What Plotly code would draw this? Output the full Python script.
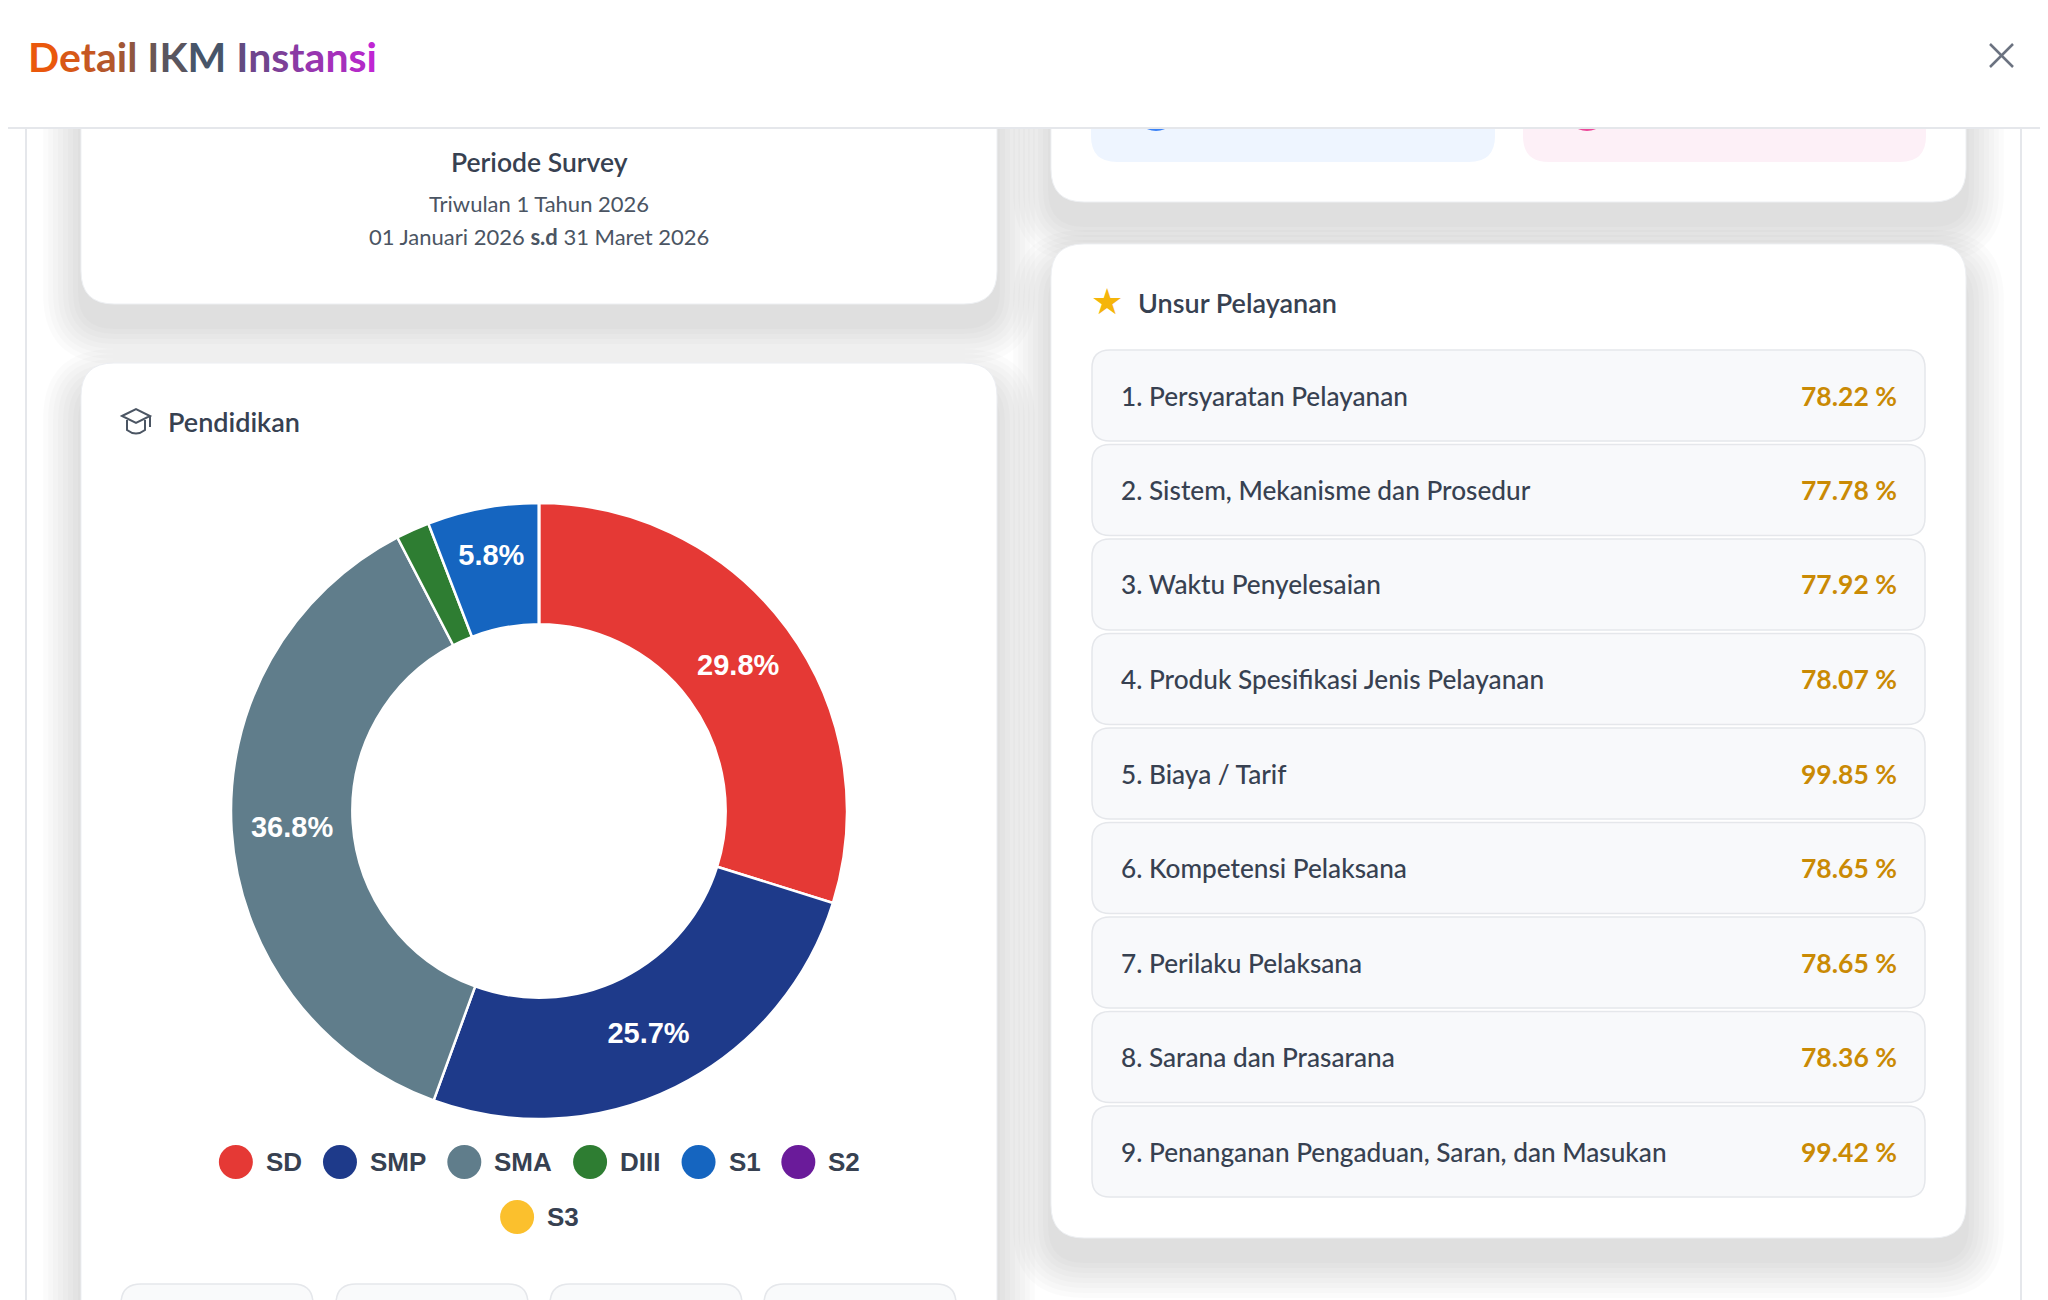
import plotly.graph_objects as go

# ---- data ----
edu_labels = ["SD", "SMP", "SMA", "DIII", "S1", "S2", "S3"]
edu_counts = [51, 44, 63, 3, 10, 0, 0]
edu_colors = ["#e53935", "#1e3a8a", "#607d8b", "#2e7d32", "#1565c0", "#6a1b9a", "#fbc02d"]

unsur_names = [
    "Persyaratan Pelayanan",
    "Sistem, Mekanisme dan Prosedur",
    "Waktu Penyelesaian",
    "Produk Spesifikasi Jenis Pelayanan",
    "Biaya / Tarif",
    "Kompetensi Pelaksana",
    "Perilaku Pelaksana",
    "Sarana dan Prasarana",
    "Penanganan Pengaduan, Saran, dan Masukan",
]
unsur_values = [78.22, 77.78, 77.92, 78.07, 99.85, 78.65, 78.65, 78.36, 99.42]

periode_title = "Periode Survey"
periode_label = "Triwulan 1 Tahun 2026"
periode_start = "01 Januari 2026"
periode_end = "31 Maret 2026"

# page is 2048x1300, the figure sits inside the 8px body margin
OFF = 8
W, H = 2048 - OFF, 1300 - OFF
UI_FONT = "Lato"
CHART_FONT = "Liberation Sans"


def X(px):
    return (px - OFF) / W


def Y(py):
    return 1 - (py - OFF) / H


def rrect(x0, y0, x1, y1, r):
    # rounded rectangle as svg path in paper coords (page pixel input)
    pts = [
        ("M", x0 + r, y0), ("L", x1 - r, y0), ("Q", x1, y0, x1, y0 + r),
        ("L", x1, y1 - r), ("Q", x1, y1, x1 - r, y1), ("L", x0 + r, y1),
        ("Q", x0, y1, x0, y1 - r), ("L", x0, y0 + r), ("Q", x0, y0, x0 + r, y0),
    ]
    out = []
    for p in pts:
        if p[0] == "Q":
            out.append(f"Q{X(p[1]):.5f},{Y(p[2]):.5f} {X(p[3]):.5f},{Y(p[4]):.5f}")
        else:
            out.append(f"{p[0]}{X(p[1]):.5f},{Y(p[2]):.5f}")
    return " ".join(out) + " Z"


shapes = []
annotations = []


def box(x0, y0, x1, y1, r, fill, line=None, lw=1.0):
    shapes.append(dict(type="path", xref="paper", yref="paper", layer="below",
                       path=rrect(x0, y0, x1, y1, r), fillcolor=fill,
                       line=dict(color=line or fill, width=lw if line else 0)))


def shadow(x0, y0, x1, y1, r):
    for k in range(8):
        e = 3 + k * 5
        box(x0 - e, y0 - e + 24, x1 + e, y1 + e + 22, r + e, "rgba(0,0,0,0.016)")


def text(x, y, s, size, color="#374151", xanchor="left", family=UI_FONT, weight="normal"):
    annotations.append(dict(x=X(x), y=Y(y), xref="paper", yref="paper", text=s,
                            showarrow=False, xanchor=xanchor, yanchor="middle",
                            font=dict(family=family, size=size, color=color, weight=weight)))


def line(x0, y0, x1, y1, color, width=1.5, layer="below"):
    shapes.append(dict(type="line", xref="paper", yref="paper", layer=layer,
                       x0=X(x0), y0=Y(y0), x1=X(x1), y1=Y(y1),
                       line=dict(color=color, width=width)))


# ---- container borders ----
line(26, 128, 26, 1300, "#e5e7eb", 2)
line(2021, 128, 2021, 1300, "#e5e7eb", 2)

# ---- left column ----
shadow(81, -60, 997, 304, 33)
shadow(81, 363, 997, 1420, 33)
box(81, -60, 997, 304, 33, "#ffffff", "#eef0f3")
box(81, 363, 997, 1420, 33, "#ffffff", "#eceef2")

text(539, 162, periode_title, 26.5, "#374151", "center", weight=600)
text(539, 204, periode_label, 22, "#4b5563", "center")
text(539, 236, f"{periode_start} <b>s.d</b> {periode_end}", 22, "#4b5563", "center")

# graduation cap icon
shapes.append(dict(type="path", xref="paper", yref="paper", layer="below",
                   path=(f"M{X(122)},{Y(416)} L{X(136)},{Y(409)} L{X(150)},{Y(416)} "
                         f"L{X(136)},{Y(423)} Z M{X(127)},{Y(420)} L{X(127)},{Y(430)} "
                         f"Q{X(136)},{Y(437)} {X(145)},{Y(430)} L{X(145)},{Y(420)} "
                         f"M{X(150)},{Y(416)} L{X(150)},{Y(427)}"),
                   line=dict(color="#4b5563", width=2)))
text(166, 422, "Pendidikan", 27, "#374151", weight=600)

# small boxes at the bottom of the education card
for bx0 in [121, 336, 550, 764]:
    box(bx0, 1284, bx0 + 192, 1420, 20, "#f9fafb", "#e5e7eb", 1.5)

# ---- donut ----
total = sum(edu_counts)
templates = ["<b>%{percent:.1%}</b>" if c / total >= 0.05 else "" for c in edu_counts]
cx, cy, R = 539, 811, 308
pie = go.Pie(
    labels=edu_labels, values=edu_counts,
    marker=dict(colors=edu_colors, line=dict(color="#ffffff", width=2.5)),
    hole=0.606, sort=False, direction="clockwise", rotation=0,
    texttemplate=templates, textposition="inside", insidetextorientation="horizontal",
    textfont=dict(family=CHART_FONT, size=29, color="#ffffff"),
    domain=dict(x=[X(cx - R), X(cx + R)], y=[Y(cy + R), Y(cy - R)]),
    hoverinfo="label+percent", showlegend=False,
)

# custom legend with round markers, wrapped and centred like the original
cw = {"S": .667, "D": .722, "M": .833, "P": .667, "A": .722, "I": .278, "1": .556, "2": .556, "3": .556}
fs, mr, gap, maxw = 26, 17, 22, 700
items = [(lab, col, sum(cw[ch] for ch in lab) * fs) for lab, col in zip(edu_labels, edu_colors)]
rows, cur, curw = [], [], 0
for it in items:
    iw = 2 * mr + 12 + it[2]
    add = iw if not cur else iw + gap
    if cur and curw + add > maxw:
        rows.append((cur, curw))
        cur, curw = [], 0
        add = iw
    cur.append(it)
    curw += add
rows.append((cur, curw))
for ri, (row, rw) in enumerate(rows):
    ly = 1162 + ri * 55
    xx = cx - rw / 2
    for lab, col, tw in row:
        shapes.append(dict(type="circle", xref="paper", yref="paper", layer="below",
                           x0=X(xx), x1=X(xx + 2 * mr), y0=Y(ly + mr), y1=Y(ly - mr),
                           fillcolor=col, line=dict(width=0)))
        text(xx + 2 * mr + 11, ly, f"<b>{lab}</b>", fs, "#374151", family=CHART_FONT)
        xx += 2 * mr + 12 + tw + gap

# ---- right column ----
shadow(1051, -60, 1966, 202, 33)
shadow(1051, 244, 1966, 1238, 33)
box(1051, -60, 1966, 202, 33, "#ffffff", "#eef0f3")
box(1091, -30, 1495, 162, 26, "#eef5ff")
box(1523, -30, 1926, 162, 26, "#fdf0f7")
for ccx, ccol in [(1156, "#3b82f6"), (1587, "#ec4899")]:
    shapes.append(dict(type="circle", xref="paper", yref="paper", layer="below",
                       x0=X(ccx - 22), x1=X(ccx + 22), y0=Y(131), y1=Y(87),
                       fillcolor=ccol, line=dict(width=0)))
box(1051, 244, 1966, 1238, 33, "#ffffff", "#eef0f3")

text(1107, 302, "★", 36, "#f5b50a", "center", family="DejaVu Sans")
text(1136, 303, "Unsur Pelayanan", 27, "#374151", weight=600)

for i, (name, val) in enumerate(zip(unsur_names, unsur_values)):
    top = 350 + i * 94.5
    box(1092, top, 1925, top + 91, 18, "#f8f9fb", "#e5e7eb", 1.5)
    mid = top + 45.5
    text(1119, mid, f"{i + 1}. {name}", 26.2, "#374151", weight=500)
    text(1899, mid, f"<b>{val:.2f} %</b>", 26.5, "#ca8a04", "right")

# ---- modal header (drawn over the scrolled cards) ----
shapes.append(dict(type="rect", xref="paper", yref="paper", layer="below",
                   x0=0, x1=1, y0=Y(128), y1=1, fillcolor="#ffffff", line=dict(width=0)))
line(0, 128, 2048, 128, "#e5e7eb", 2)
line(1990, 44, 2013, 67, "#6b7280", 2.5)
line(2013, 44, 1990, 67, "#6b7280", 2.5)


def blend(c1, c2, t):
    a = [int(c1[i:i + 2], 16) for i in (1, 3, 5)]
    b = [int(c2[i:i + 2], 16) for i in (1, 3, 5)]
    return "#" + "".join(f"{round(a[k] + (b[k] - a[k]) * t):02x}" for k in range(3))


title = "Detail IKM Instansi"
stops = ["#ea580c", "#475569", "#c026d3"]
spans = []
n = len(title) - 1
for i, ch in enumerate(title):
    t = i / n
    col = blend(stops[0], stops[1], t * 2) if t <= 0.5 else blend(stops[1], stops[2], (t - 0.5) * 2)
    spans.append(f"<span style='color:{col}'>{ch}</span>")
text(26, 57, "<b>" + "".join(spans) + "</b>", 41, "#475569")

fig = go.Figure(data=[pie])
fig.update_layout(
    width=W, height=H, margin=dict(l=0, r=0, t=0, b=0),
    paper_bgcolor="#ffffff", plot_bgcolor="#ffffff",
    shapes=shapes, annotations=annotations, showlegend=False,
)
fig.write_html("out.html")
